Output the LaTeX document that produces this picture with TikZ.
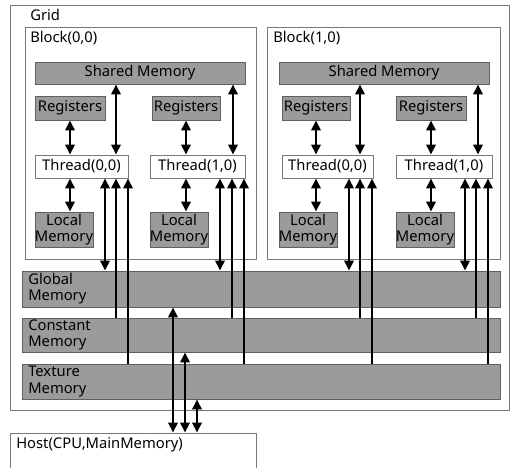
\documentclass[tikz,border=0pt]{standalone}
\usepackage{fontspec}
\setmainfont{Noto Sans}
\usetikzlibrary{arrows.meta}
\definecolor{memgray}{RGB}{155,155,155}
\definecolor{edgegray}{RGB}{120,120,120}

\begin{document}
\begin{tikzpicture}[
        x=0.025cm, y=-0.025cm,
        every node/.style={font=\fontsize{10.5}{11.5}\selectfont, inner sep=0pt},
        rect/.style args={#1/#2}{minimum width=#1*0.025cm, minimum height=#2*0.025cm},
        box/.style={draw=edgegray, fill=white, line width=0.6pt},
        mem/.style={draw=edgegray!80!black, fill=memgray, line width=0.6pt},
        lbl/.style={anchor=west},
        bank/.style={mem, rect=478/#1},
        dbl/.style={line width=1.6pt, {Triangle[length=7pt,width=6.5pt]}-{Triangle[length=7pt,width=6.5pt]}},
        one/.style={line width=1.6pt, -{Triangle[length=7pt,width=6.5pt]}},
    ]
    \useasboundingbox (0,0) rectangle (512,467);

    % Grid and blocks
    \node[box, rect=499/405] (grid) at (259.5,207.5) {};
    \node[lbl] (gridlbl) at (30,15) {Grid};
    \node[box, rect=231/232] (B0) at (140.5,143) {};
    \node[lbl] (B0lbl) at (30,38) {Block(0,0)};
    \node[box, rect=233/232] (B1) at (383.5,143) {};
    \node[lbl] (B1lbl) at (273,38) {Block(1,0)};

    % Block(0,0)
    \node[mem, rect=210/22] (SM0) at (140,73) {Shared Memory};
    \node[mem, rect=70/24] (R00) at (70,108) {Registers};
    \node[mem, rect=68/24] (R10) at (186,108) {Registers};
    \node[box, rect=93/23] (T00) at (81.5,166.5) {Thread(0,0)};
    \node[box, rect=95/23] (T10) at (197.5,166.5) {Thread(1,0)};
    \node[mem, rect=58/35, align=center] (L00) at (64,229.5) {Local\\Memory};
    \node[mem, rect=58/35, align=center] (L10) at (179,229.5) {Local\\Memory};

    % Block(1,0)
    \node[mem, rect=210/22] (SM1) at (384,73) {Shared Memory};
    \node[mem, rect=68/24] (R01) at (316,108) {Registers};
    \node[mem, rect=70/24] (R11) at (431,108) {Registers};
    \node[box, rect=91/23] (T01) at (327.5,166.5) {Thread(0,0)};
    \node[box, rect=96/23] (T11) at (444,166.5) {Thread(1,0)};
    \node[mem, rect=58/35, align=center] (L01) at (308,229.5) {Local\\Memory};
    \node[mem, rect=58/35, align=center] (L11) at (425,229.5) {Local\\Memory};

    % device memories
    \node[bank=36] (GM) at (261,289) {};
    \node[lbl, align=left] (GMlbl) at (28,289) {Global\\Memory};
    \node[bank=34] (CM) at (261,335) {};
    \node[lbl, align=left] (CMlbl) at (28,335) {Constant\\Memory};
    \node[bank=35] (TM) at (261,381.5) {};
    \node[lbl, align=left] (TMlbl) at (28,381.5) {Texture\\Memory};

    % host
    \node[box, rect=246/46] (host) at (133,456) {};
    \node[lbl] (hostlbl) at (16,445) {Host(CPU,MainMemory)};

    % registers, local memory, shared memory
    \foreach \t/\r/\l/\s/\x in {T00/R00/L00/SM0/116, T10/R10/L10/SM0/233,
                                T01/R01/L01/SM1/360, T11/R11/L11/SM1/478} {
        \draw[dbl] (\r.south) -- (\r.south |- \t.north);
        \draw[dbl] (\r.south |- \t.south) -- (\r.south |- \l.north);
        \draw[dbl] (\x,0 |- \s.south) -- (\x,0 |- \t.north);
    }

    % global, constant, texture
    \foreach \t/\a/\b/\c in {T00/105/116/128, T10/220/232/244,
                             T01/349/360/372, T11/465/476/488} {
        \draw[dbl] (\a,0 |- \t.south) -- (\a,0 |- GM.north);
        \draw[one] (\b,0 |- CM.north) -- (\b,0 |- \t.south);
        \draw[one] (\c,0 |- TM.north) -- (\c,0 |- \t.south);
    }

    % host transfers
    \draw[dbl] (173,0 |- GM.south) -- (173,0 |- host.north);
    \draw[dbl] (185,0 |- CM.south) -- (185,0 |- host.north);
    \draw[dbl] (197,0 |- TM.south) -- (197,0 |- host.north);
\end{tikzpicture}
\end{document}
